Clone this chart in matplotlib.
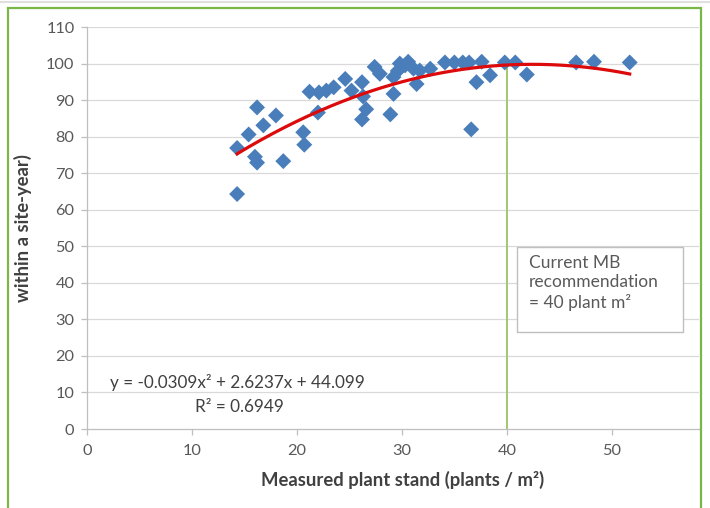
import numpy as np
import matplotlib.pyplot as plt
from matplotlib.patches import Rectangle

# measured plant stand (plants / m2) and yield within a site-year
stand = [14.3, 14.3, 15.4, 16.0, 16.2, 16.2, 16.8, 18.0, 18.7, 20.6,
         20.7, 21.2, 22.0, 22.1, 22.8, 23.5, 24.6, 25.2, 26.2, 26.3,
         26.6, 26.2, 27.4, 27.9, 28.9, 29.2, 29.2, 29.6, 29.8, 30.3,
         30.6, 31.1, 31.4, 31.7, 32.7, 34.1, 35.0, 35.8, 36.4, 36.6,
         37.1, 37.6, 38.4, 39.8, 40.8, 41.9, 46.6, 48.3, 51.7]
yield_pct = [64.3, 76.9, 80.6, 74.5, 72.9, 88.0, 83.1, 85.8, 73.3, 81.2,
             77.8, 92.3, 86.6, 92.1, 92.6, 93.5, 95.8, 92.6, 94.9, 91.0,
             87.5, 84.7, 99.1, 97.2, 86.1, 91.7, 96.3, 98.0, 100.0, 99.5,
             100.5, 98.6, 94.4, 98.1, 98.6, 100.3, 100.3, 100.3, 100.3, 82.0,
             94.9, 100.5, 96.8, 100.3, 100.3, 97.0, 100.3, 100.5, 100.3]

# polynomial trendline as printed on the chart
trend_coef = [-0.0309, 2.6237, 44.099]
trend_label = 'y = -0.0309x² + 2.6237x + 44.099'
r2_label = 'R² = 0.6949'
recommended = 40
rec_label = 'Current MB\nrecommendation\n= 40 plant m²'

x_ticks = [0, 10, 20, 30, 40, 50]
y_ticks = list(range(0, 111, 10))

plt.rcParams['font.family'] = ['Lato', 'DejaVu Sans']

fig = plt.figure(figsize=(7.1, 5.08), dpi=100)
ax = fig.add_axes([0.1225, 0.1555, 0.862, 0.7913])

for y in y_ticks[1:]:
    ax.axhline(y, color='#d9d9d9', lw=0.9, zorder=0)

ax.scatter(stand, yield_pct, marker='D', s=66, color='#4a7ebb',
           edgecolors='none', zorder=3)

xs = np.linspace(min(stand), max(stand), 200)
ax.plot(xs, np.polyval(trend_coef, xs), color='#dc0a0a', lw=2.3, zorder=4)

ax.plot([recommended, recommended], [0, np.polyval(trend_coef, recommended)],
        color='#9bc466', lw=1.3, zorder=2)

ax.add_patch(Rectangle((40.95, 26.5), 15.85, 23.3, facecolor='white',
                       edgecolor='#bfbfbf', lw=1, zorder=5))
ax.text(42.1, 47.6, rec_label, ha='left', va='top', fontsize=12.5,
        color='#595959', linespacing=1.25, zorder=6)

ax.text(2.2, 12.7, trend_label, ha='left', va='center', fontsize=12.3, color='#404040')
ax.text(14.5, 5.9, r2_label, ha='center', va='center', fontsize=12.3, color='#404040')

ax.set_xlim(0, 58.3)
ax.set_ylim(0, 110)
ax.set_xticks(x_ticks)
ax.set_yticks(y_ticks)
ax.tick_params(colors='#bfbfbf', labelcolor='#595959', labelsize=11.8,
               length=4, width=0.9)
ax.tick_params(axis='x', pad=7)
ax.tick_params(axis='y', pad=5)

for side in ['top', 'right']:
    ax.spines[side].set_visible(False)
for side in ['left', 'bottom']:
    ax.spines[side].set_color('#bfbfbf')
    ax.spines[side].set_linewidth(0.9)

ax.set_xlabel('Measured plant stand (plants / m²)', fontsize=13.3,
              fontweight='bold', color='#404040')
ax.xaxis.set_label_coords(0.515, -0.105)
ax.set_ylabel('within a site-year)', fontsize=13.3, fontweight='bold',
              color='#404040', labelpad=10)

# green frame around the figure
fig.patches.append(Rectangle((0.0113, -0.02), 0.9757, 1.004, transform=fig.transFigure,
                             fill=False, edgecolor='#7ab648', lw=1.6))
fig.lines.append(plt.Line2D([0, 1], [0.997, 0.997], transform=fig.transFigure,
                            color='#e0e0e0', lw=1.5))

fig.savefig('out.png', dpi=100)
